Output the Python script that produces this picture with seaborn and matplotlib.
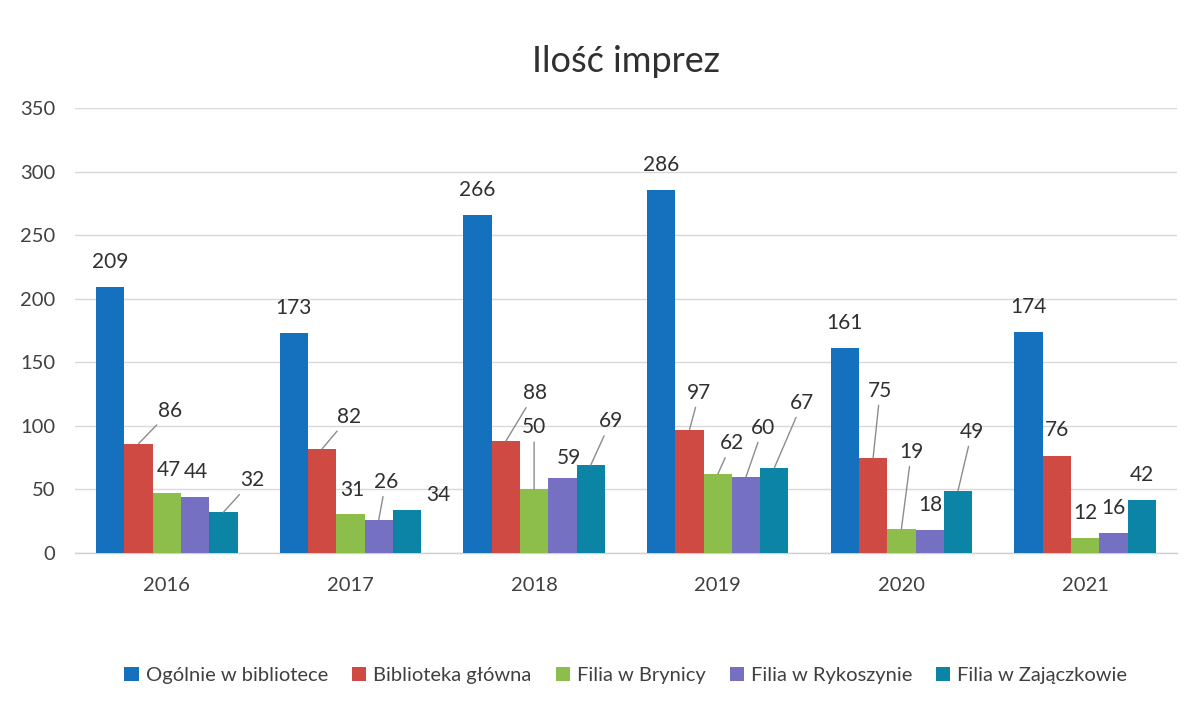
import matplotlib
matplotlib.use("Agg")
import matplotlib.pyplot as plt
import seaborn as sns
import pandas as pd

years = ["2016", "2017", "2018", "2019", "2020", "2021"]
series = ["Ogólnie w bibliotece", "Biblioteka główna", "Filia w Brynicy",
          "Filia w Rykoszynie", "Filia w Zajączkowie"]
ogolnie = [209, 173, 266, 286, 161, 174]
glowna = [86, 82, 88, 97, 75, 76]
brynica = [47, 31, 50, 62, 19, 12]
rykoszyn = [44, 26, 59, 60, 18, 16]
zajaczkow = [32, 34, 69, 67, 49, 42]
values = [ogolnie, glowna, brynica, rykoszyn, zajaczkow]

colors = ["#1570BE", "#CF4A43", "#8DBE4C", "#7670C2", "#0C84A6"]

# label offsets in pixels (dx, dy) from bar top centre, and leader flag
STD = (0, 25, False)
label_style = [
    [STD, STD, STD, STD, STD, STD],
    [(32, 33, True), (27, 32, True), (29, 48, True), (10, 37, True), (7, 67, True), (0, 26, False)],
    [(2, 23, False), (2, 24, False), (0, 62, True), (14, 31, True), (10, 77, True), STD],
    [(1, 25, False), (7, 38, True), (7, 20, False), (17, 49, True), (1, 25, False), STD],
    [(29, 32, True), (31, 15, False), (20, 44, True), (28, 65, True), (14, 59, True), STD],
]

rows = []
for s, vals in zip(series, values):
    for y, v in zip(years, vals):
        rows.append({"Rok": y, "Seria": s, "Wartość": v})
df = pd.DataFrame(rows)

sns.set_theme(style="white")
plt.rcParams["font.family"] = ["Lato", "DejaVu Sans"]

fig = plt.figure(figsize=(11.9, 7.08), dpi=100)
ax = fig.add_axes([0.063, 0.219, 0.926, 0.628])

sns.barplot(data=df, x="Rok", y="Wartość", hue="Seria", order=years,
            hue_order=series, palette=colors, width=0.77, saturation=1,
            linewidth=0, edgecolor="none",
            ax=ax, legend=True, zorder=3)

ax.set_ylim(0, 350)
ax.set_yticks(range(0, 351, 50))
ax.yaxis.grid(True, color="#d9d9d9", linewidth=1, zorder=0)
ax.xaxis.grid(False)
ax.set_axisbelow(True)
for sp in ["top", "right", "left"]:
    ax.spines[sp].set_visible(False)
ax.spines["bottom"].set_color("#d0d0d0")
ax.spines["bottom"].set_linewidth(1)
ax.set_xlabel("")
ax.set_ylabel("")
ax.tick_params(axis="y", length=0, pad=14, labelsize=14.5, labelcolor="#404040")
ax.tick_params(axis="x", length=0, pad=17, labelsize=14.5, labelcolor="#404040")

for si, cont in enumerate(ax.containers):
    for yi, patch in enumerate(cont.patches):
        h = patch.get_height()
        xc = patch.get_x() + patch.get_width() / 2
        dx, dy, leader = label_style[si][yi]
        txt = f"{int(round(h))}"
        if leader:
            ax.annotate(txt, xy=(xc, h), xytext=(dx, dy), textcoords="offset pixels",
                        ha="center", va="center", fontsize=15, color="#303030",
                        arrowprops=dict(arrowstyle="-", color="#8c8c8c", lw=1,
                                        shrinkA=1, shrinkB=0), zorder=5)
        else:
            ax.annotate(txt, xy=(xc, h), xytext=(dx, dy), textcoords="offset pixels",
                        ha="center", va="center", fontsize=15, color="#303030", zorder=5)

ax.set_title("Ilość imprez", fontsize=26, color="#303030", pad=26)

leg = ax.legend(loc="center", bbox_to_anchor=(0.5, -0.275), ncol=5, frameon=False,
                fontsize=14.5, handlelength=0.7, handleheight=0.7, handletextpad=0.35,
                columnspacing=1.2)
for t in leg.get_texts():
    t.set_color("#404040")

fig.savefig("out.png", dpi=100, facecolor="white")
